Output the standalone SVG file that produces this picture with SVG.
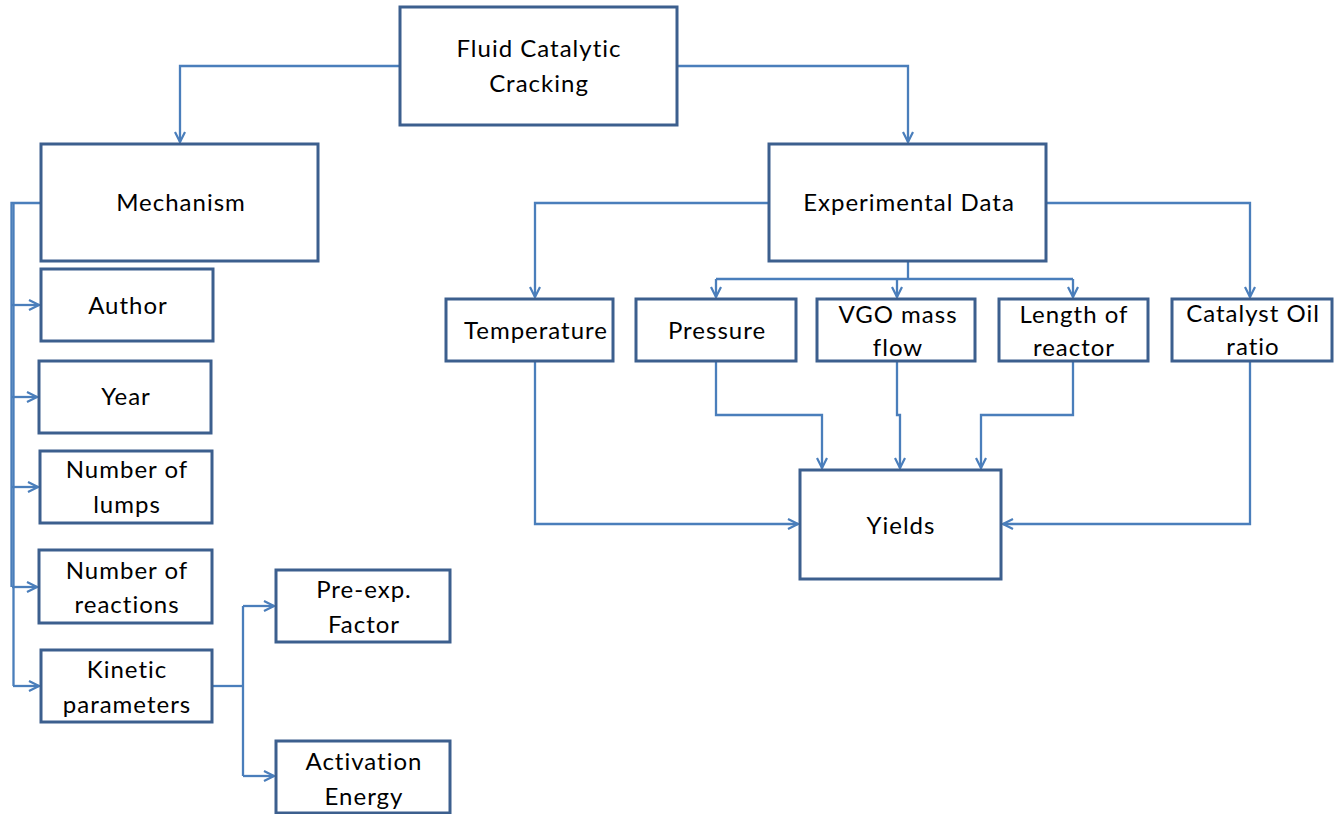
<svg xmlns="http://www.w3.org/2000/svg" width="1340" height="814" viewBox="0 0 1340 814">
  <style>
    .box { fill: #ffffff; stroke: #3c5f8e; stroke-width: 3; }
    .lbl { font-family: Lato, "Open Sans", "Liberation Sans", sans-serif; font-size: 24px; letter-spacing: 1px; fill: #000000; text-anchor: middle; }
    .wire { fill: none; stroke: #4a7ebb; stroke-width: 2.3; }
  </style>
  <defs>
    <marker id="arrow" viewBox="0 0 12 12" refX="11" refY="6" markerWidth="12" markerHeight="12" markerUnits="userSpaceOnUse" orient="auto">
      <path d="M1,1 L11,6 L1,11" fill="none" stroke="#4a7ebb" stroke-width="2.2"/>
    </marker>
  </defs>

  <rect width="1340" height="814" fill="#ffffff"/>

  <!-- connectors -->
  <g id="connectors" class="wire">
    <path d="M400,66 H180 V142" marker-end="url(#arrow)"/>
    <path d="M677,66 H908 V142" marker-end="url(#arrow)"/>

    <!-- Mechanism bracket: overlapping trunks make a heavier upper run -->
    <path d="M41,203 H11.5 V587"/>
    <path d="M13.5,203 V686"/>
    <path d="M12,305 H39" marker-end="url(#arrow)"/>
    <path d="M12,397 H37" marker-end="url(#arrow)"/>
    <path d="M12,487 H38" marker-end="url(#arrow)"/>
    <path d="M12,587 H37" marker-end="url(#arrow)"/>
    <path d="M13,686 H39" marker-end="url(#arrow)"/>

    <!-- Kinetic parameters split -->
    <path d="M212,686 H243"/>
    <path d="M243,606 V776"/>
    <path d="M243,606 H274" marker-end="url(#arrow)"/>
    <path d="M243,776 H274" marker-end="url(#arrow)"/>

    <!-- Experimental Data outputs -->
    <path d="M769,203 H535 V297" marker-end="url(#arrow)"/>
    <path d="M1046,203 H1250 V297" marker-end="url(#arrow)"/>
    <path d="M908,261 V279"/>
    <path d="M716,279 H1073"/>
    <path d="M716,279 V297" marker-end="url(#arrow)"/>
    <path d="M897,279 V297" marker-end="url(#arrow)"/>
    <path d="M1073,279 V297" marker-end="url(#arrow)"/>

    <!-- Into Yields -->
    <path d="M716,361 V415 H822 V468" marker-end="url(#arrow)"/>
    <path d="M897,361 V415 H900 V468" marker-end="url(#arrow)"/>
    <path d="M1073,361 V415 H981 V468" marker-end="url(#arrow)"/>
    <path d="M535,361 V524 H798" marker-end="url(#arrow)"/>
    <path d="M1250,361 V524 H1003" marker-end="url(#arrow)"/>
  </g>

  <!-- nodes -->
  <g id="fcc">
    <rect class="box" x="400" y="7" width="277" height="118"/>
    <text class="lbl" x="539" y="57">Fluid Catalytic</text>
    <text class="lbl" x="539" y="92">Cracking</text>
  </g>
  <g id="mechanism">
    <rect class="box" x="41" y="144" width="277" height="117"/>
    <text class="lbl" x="181" y="211">Mechanism</text>
  </g>
  <g id="author">
    <rect class="box" x="41" y="269" width="172" height="72"/>
    <text class="lbl" x="128" y="314">Author</text>
  </g>
  <g id="year">
    <rect class="box" x="39" y="361" width="172" height="72"/>
    <text class="lbl" x="126" y="405">Year</text>
  </g>
  <g id="lumps">
    <rect class="box" x="40" y="451" width="172" height="72"/>
    <text class="lbl" x="127" y="478">Number of</text>
    <text class="lbl" x="127" y="513">lumps</text>
  </g>
  <g id="reactions">
    <rect class="box" x="39" y="550" width="173" height="73"/>
    <text class="lbl" x="127" y="579">Number of</text>
    <text class="lbl" x="127" y="613">reactions</text>
  </g>
  <g id="kinetic">
    <rect class="box" x="41" y="650" width="171" height="72"/>
    <text class="lbl" x="127" y="678">Kinetic</text>
    <text class="lbl" x="127" y="713">parameters</text>
  </g>
  <g id="preexp">
    <rect class="box" x="276" y="570" width="174" height="72"/>
    <text class="lbl" x="364" y="598">Pre-exp.</text>
    <text class="lbl" x="364" y="633">Factor</text>
  </g>
  <g id="activation">
    <rect class="box" x="276" y="741" width="174" height="72"/>
    <text class="lbl" x="364" y="770">Activation</text>
    <text class="lbl" x="364" y="805">Energy</text>
  </g>
  <g id="experimental">
    <rect class="box" x="769" y="144" width="277" height="117"/>
    <text class="lbl" x="909" y="211">Experimental Data</text>
  </g>
  <g id="temperature">
    <rect class="box" x="446" y="299" width="167" height="62"/>
    <text class="lbl" x="536" y="339">Temperature</text>
  </g>
  <g id="pressure">
    <rect class="box" x="636" y="299" width="160" height="62"/>
    <text class="lbl" x="717" y="339">Pressure</text>
  </g>
  <g id="vgo">
    <rect class="box" x="817" y="299" width="158" height="62"/>
    <text class="lbl" x="898" y="323">VGO mass</text>
    <text class="lbl" x="898" y="356">flow</text>
  </g>
  <g id="length">
    <rect class="box" x="999" y="299" width="149" height="62"/>
    <text class="lbl" x="1074" y="323">Length of</text>
    <text class="lbl" x="1074" y="356">reactor</text>
  </g>
  <g id="catalyst">
    <rect class="box" x="1172" y="299" width="160" height="62"/>
    <text class="lbl" x="1253" y="322">Catalyst Oil</text>
    <text class="lbl" x="1253" y="355">ratio</text>
  </g>
  <g id="yields">
    <rect class="box" x="800" y="470" width="201" height="109"/>
    <text class="lbl" x="901" y="534">Yields</text>
  </g>
</svg>
